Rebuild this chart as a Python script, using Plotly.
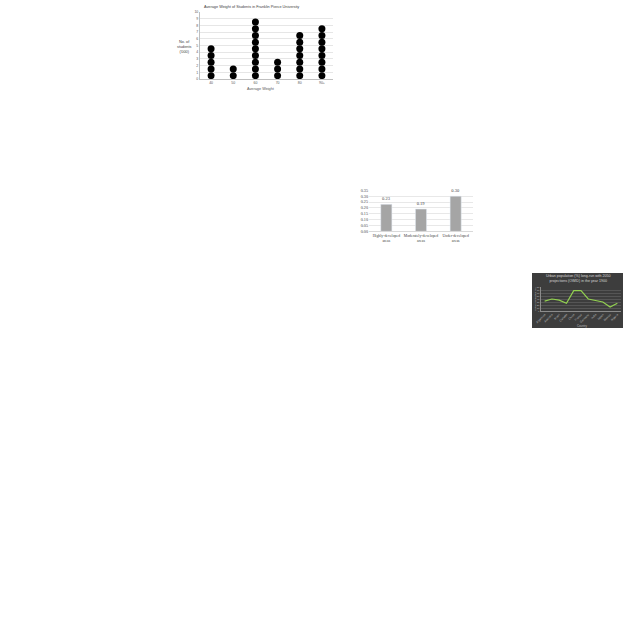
import plotly.graph_objects as go

W = H = 640

# Chart 1: dot plot
weight_cats = ["40", "50", "60", "70", "80", "90+"]
student_counts = [5, 2, 9, 3, 7, 8]

# Chart 2: bar chart
area_cats = ["Highly-developed<br>areas", "Moderately-developed<br>areas", "Under-developed<br>areas"]
area_values = [0.23, 0.19, 0.30]

# Chart 3: line chart
countries = ["Argentina", "Australia", "Brazil", "Canada", "China", "France",
             "Germany", "India", "Japan", "Mexico", "Nigeria"]
urban_pct = [33, 40, 36, 26, 68, 68, 40, 36, 30, 13, 26]

def px(x):
    return x / W

def py(y):
    return 1 - y / H

fig = go.Figure()

dx, dy = [], []
for c, n in zip(weight_cats, student_counts):
    for k in range(n):
        dx.append(c)
        dy.append(k + 0.5)
fig.add_trace(go.Scatter(x=dx, y=dy, mode="markers", xaxis="x", yaxis="y",
                         marker=dict(color="black", size=7), showlegend=False,
                         hoverinfo="skip"))

fig.add_trace(go.Bar(x=area_cats, y=area_values, xaxis="x2", yaxis="y2",
                     marker=dict(color="#a5a5a5"), width=0.32,
                     text=[f"{v:.2f}" for v in area_values], textposition="outside",
                     textfont=dict(family="Liberation Serif", size=4.5, color="#404040"),
                     cliponaxis=False, showlegend=False))

fig.add_trace(go.Scatter(x=countries, y=urban_pct, mode="lines", xaxis="x3", yaxis="y3",
                         line=dict(color="#92d050", width=1.2), showlegend=False))

small = dict(family="Liberation Sans", size=3.5, color="#595959")

fig.update_layout(
    width=W, height=H, margin=dict(l=0, r=0, t=0, b=0, autoexpand=False),
    paper_bgcolor="white", plot_bgcolor="rgba(0,0,0,0)",
    xaxis=dict(domain=[px(200), px(333)], range=[-0.5, 5.5], type="category",
               showgrid=False, showline=True, linecolor="#bfbfbf", linewidth=1,
               ticks="", tickfont=small, anchor="y", tickangle=0, automargin=False),
    yaxis=dict(domain=[py(79), py(12)], range=[0, 10], dtick=1,
               showgrid=True, gridcolor="#e6e6e6", gridwidth=0.5, zeroline=False,
               showline=True, linecolor="#bfbfbf", linewidth=1,
               tickfont=small, anchor="x", ticklen=0, automargin=False),
    xaxis2=dict(domain=[px(369), px(473)], range=[-0.5, 2.5], type="category",
                showgrid=False, showline=True, linecolor="#d9d9d9", tickangle=0,
                tickfont=dict(family="Liberation Serif", size=3.8, color="#404040"),
                anchor="y2", automargin=False),
    yaxis2=dict(domain=[py(231.3), py(190.3)], range=[0, 0.35], dtick=0.05,
                tickformat=".2f", showgrid=True, gridcolor="#e8e8e8", gridwidth=0.5,
                zeroline=False, tickfont=dict(family="Liberation Serif", size=4.2, color="#404040"),
                anchor="x2", automargin=False),
    xaxis3=dict(domain=[px(541), px(621)], type="category", range=[-0.5, 10.5],
                showgrid=False, showline=True, linecolor="#8c8c8c",
                tickangle=-45, tickfont=dict(family="Liberation Sans", size=2.8, color="#bfbfbf"),
                anchor="y3", automargin=False),
    yaxis3=dict(domain=[py(311), py(287)], range=[0, 80], dtick=10,
                showgrid=True, gridcolor="#555555", gridwidth=0.5, zeroline=False,
                showline=True, linecolor="#8c8c8c",
                tickfont=dict(family="Liberation Sans", size=2.5, color="#bfbfbf"),
                anchor="x3", automargin=False),
    shapes=[dict(type="rect", xref="paper", yref="paper",
                 x0=px(532), x1=px(623), y0=py(328), y1=py(273),
                 fillcolor="#3d3d3d", line=dict(width=0), layer="below")],
)

def note(text, x, y, size, color, angle=0, family="Liberation Sans"):
    return dict(text=text, x=px(x), y=py(y), xref="paper", yref="paper", showarrow=False,
                xanchor="center", yanchor="middle", textangle=angle,
                font=dict(family=family, size=size, color=color))

ann = [
    note("Average Weight of Students in Franklin Pierce University", 251, 7, 3.8, "#404040"),
    note("No. of<br>students<br>('000)", 184, 47, 3.8, "#404040"),
    note("Average Weight", 261, 89, 3.8, "#595959"),
    note("Urban population (%) long-run with 2050<br>projections (OWID) in the year 1900",
         578, 278.5, 3.6, "#d9d9d9"),
    note("Urban population (%)", 535, 299, 2.5, "#bfbfbf", angle=-90),
    note("Country", 582, 326, 2.8, "#bfbfbf"),
]
fig.update_layout(annotations=ann)

fig.write_html("out.html")
